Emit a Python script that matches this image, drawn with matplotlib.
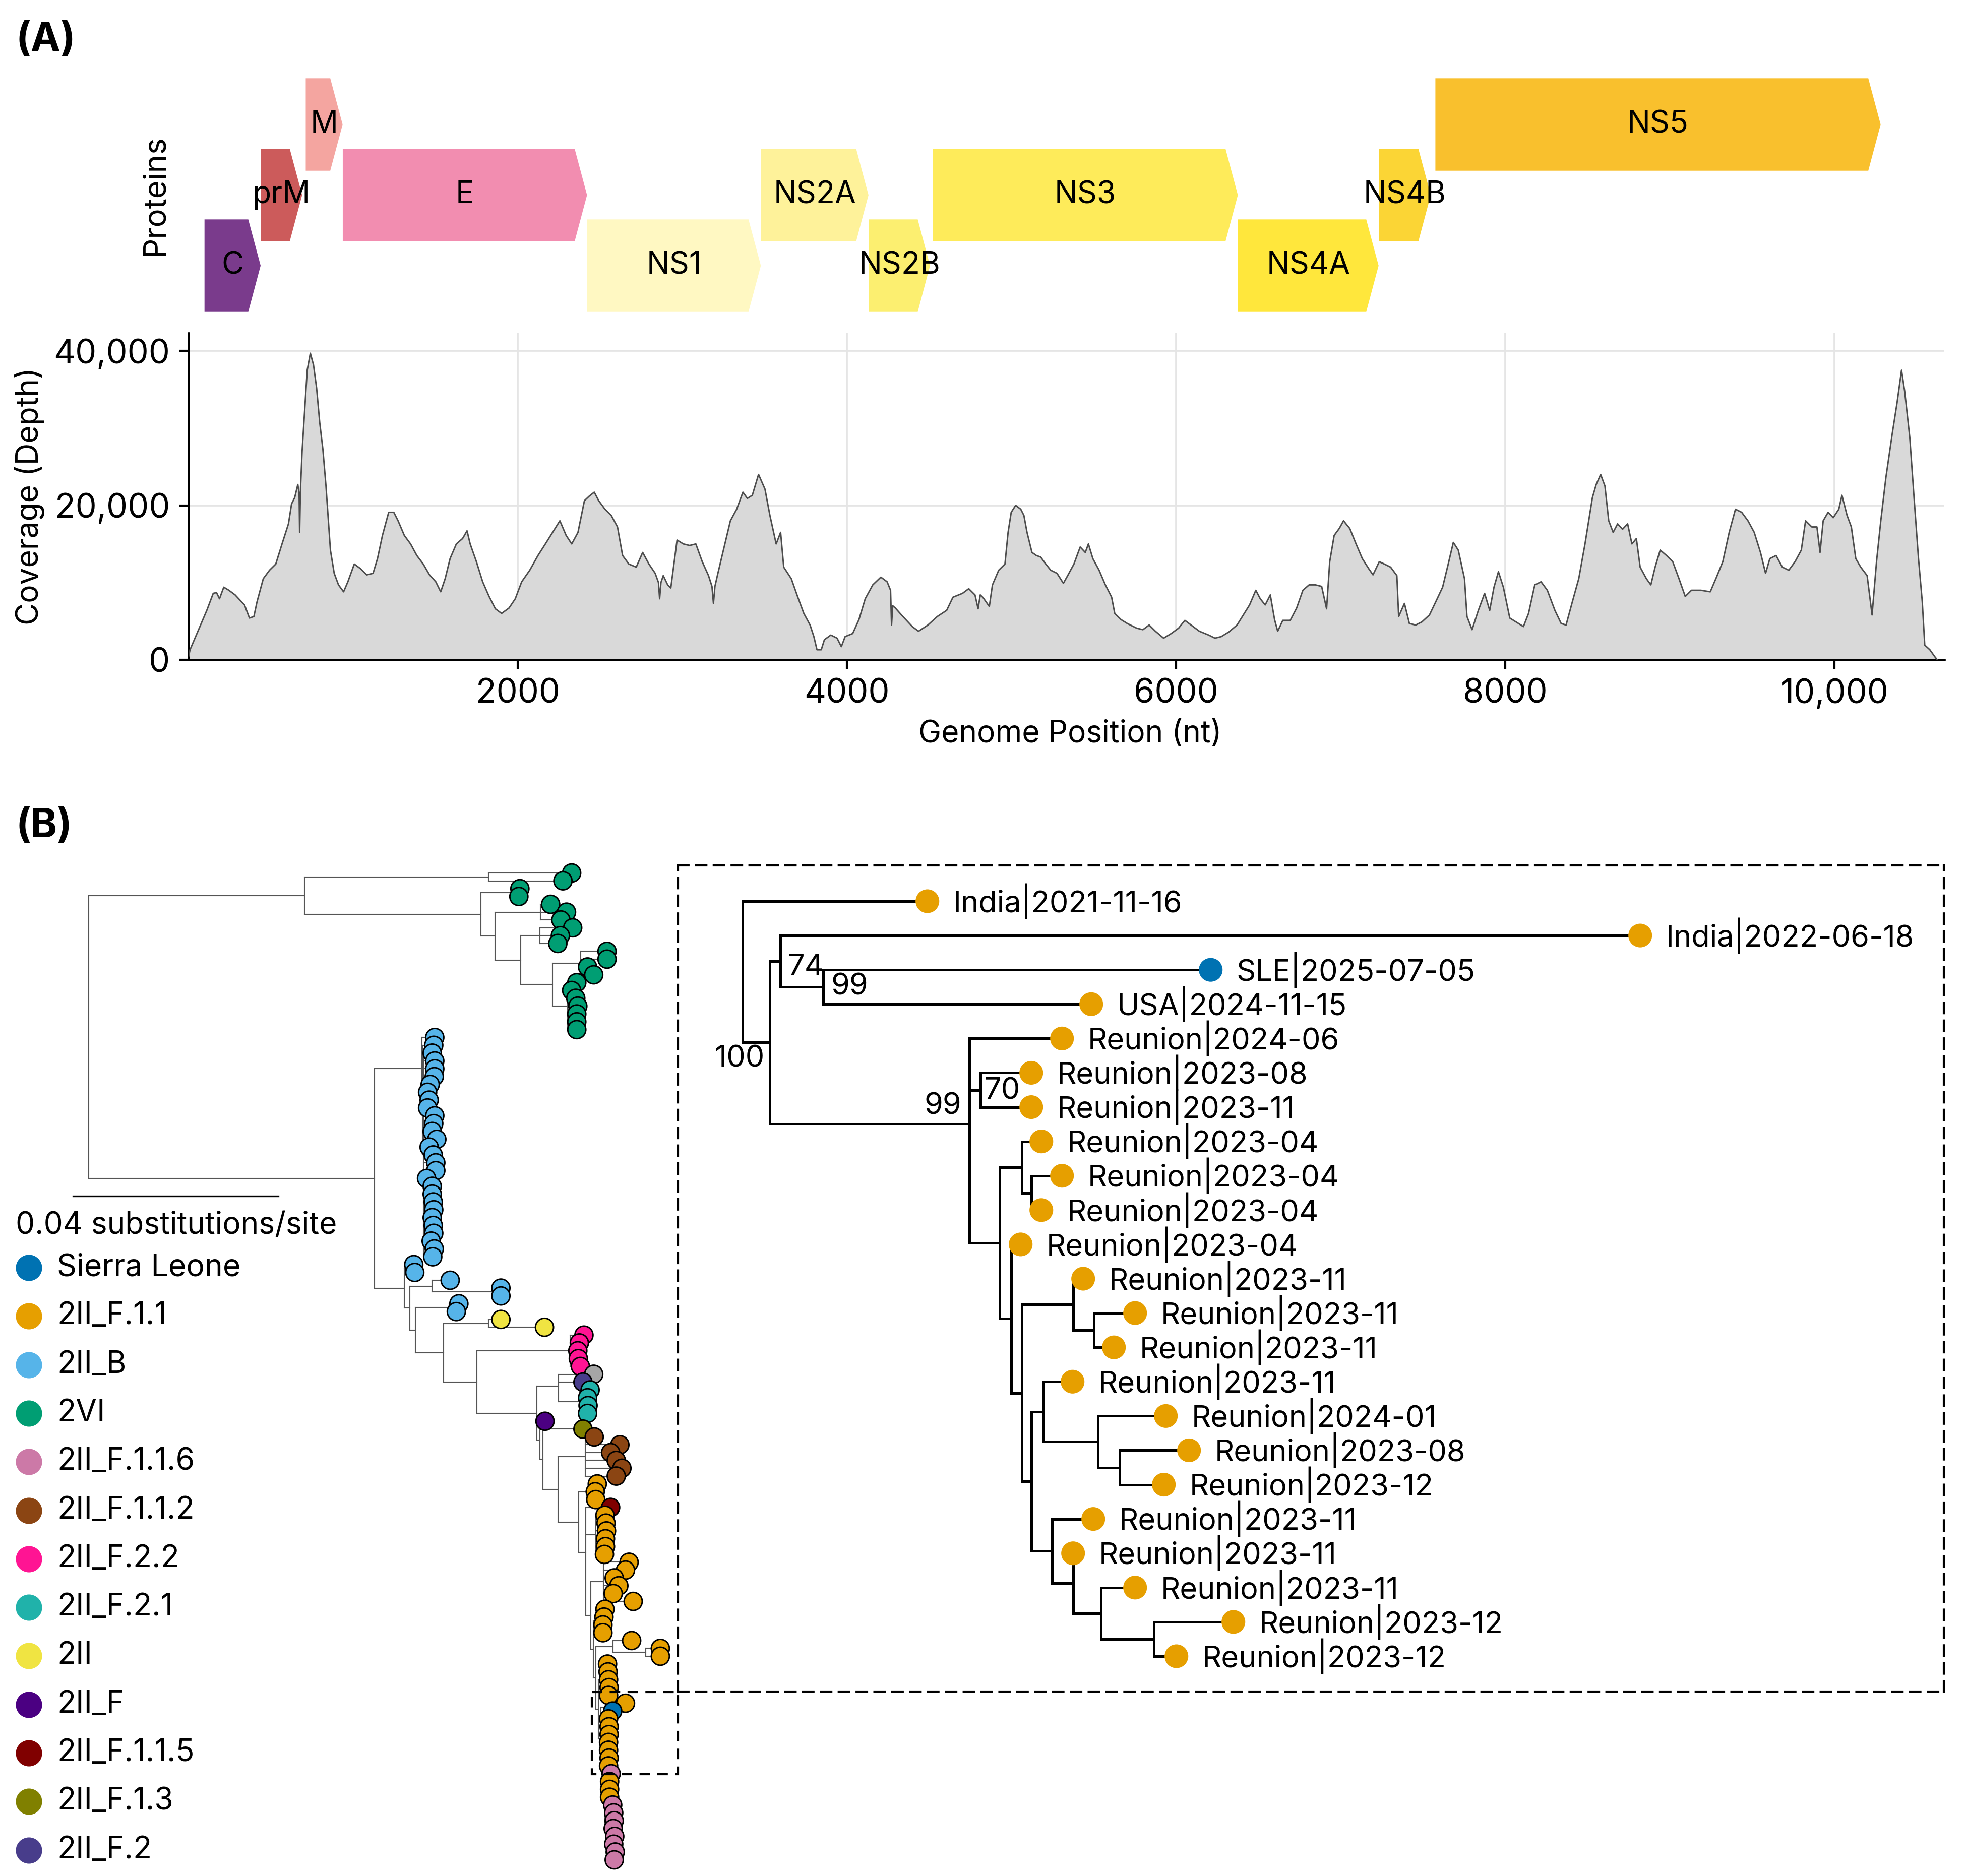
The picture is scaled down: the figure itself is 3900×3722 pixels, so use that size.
import matplotlib
matplotlib.use("Agg")
import matplotlib.pyplot as plt
from matplotlib.patches import Polygon, Rectangle
from matplotlib.collections import LineCollection

plt.rcParams["font.family"] = ["Inter", "DejaVu Sans"]

# ---------------- data ----------------
# genome annotation (nt)
gene_names = ["C", "prM", "M", "E", "NS1", "NS2A", "NS2B", "NS3", "NS4A", "NS4B", "NS5"]
gene_start = [97, 439, 712, 937, 2422, 3478, 4132, 4522, 6376, 7231, 7575]
gene_end = [438, 690, 936, 2421, 3477, 4131, 4505, 6375, 7230, 7547, 10280]
gene_row = [1, 2, 3, 2, 1, 2, 1, 2, 1, 2, 3]
gene_colors = ["#7A3B8C", "#CC5B5B", "#F4A5A0", "#F28DB0", "#FFF8C2", "#FEF29A",
               "#FCEF70", "#FEEB5A", "#FFE73C", "#FBD535", "#F9C02D"]

# read depth along the genome
cov_pos = [1, 9, 73, 111, 150, 170, 188, 214, 245, 283, 340, 370, 397, 416, 454, 492, 530,
           568, 607, 626, 645, 664, 672, 675, 680, 690, 721, 740, 759, 778, 797, 816, 835,
           862, 885, 911, 942, 968, 1007, 1045, 1083, 1121, 1148, 1178, 1216, 1247, 1273,
           1311, 1349, 1387, 1426, 1464, 1502, 1532, 1559, 1589, 1627, 1665, 1692, 1711,
           1749, 1787, 1826, 1864, 1902, 1947, 1985, 2024, 2073, 2123, 2168, 2206, 2256,
           2294, 2328, 2366, 2405, 2435, 2465, 2492, 2530, 2568, 2606, 2637, 2675, 2720,
           2759, 2797, 2835, 2855, 2862, 2870, 2884, 2911, 2930, 2968, 3006, 3044, 3082,
           3121, 3159, 3180, 3189, 3198, 3216, 3254, 3292, 3330, 3368, 3395, 3425, 3463,
           3502, 3532, 3570, 3597, 3616, 3662, 3700, 3738, 3776, 3799, 3818, 3844, 3863,
           3902, 3940, 3966, 3989, 4035, 4073, 4111, 4157, 4206, 4244, 4265, 4271, 4278,
           4294, 4340, 4397, 4435, 4492, 4549, 4606, 4644, 4702, 4740, 4778, 4797, 4810,
           4827, 4865, 4884, 4922, 4960, 4979, 4998, 5025, 5056, 5075, 5094, 5124, 5151,
           5177, 5208, 5238, 5276, 5315, 5341, 5379, 5417, 5448, 5467, 5494, 5532, 5570,
           5608, 5627, 5665, 5703, 5760, 5798, 5836, 5874, 5924, 5970, 6015, 6053, 6103,
           6141, 6198, 6236, 6274, 6320, 6370, 6408, 6446, 6484, 6511, 6541, 6572, 6598,
           6617, 6648, 6693, 6732, 6770, 6808, 6846, 6884, 6914, 6933, 6960, 6991, 7017,
           7055, 7093, 7131, 7170, 7196, 7234, 7265, 7303, 7341, 7352, 7387, 7417, 7455,
           7493, 7539, 7577, 7619, 7653, 7684, 7714, 7752, 7767, 7798, 7836, 7874, 7905,
           7931, 7958, 7988, 8027, 8065, 8110, 8141, 8179, 8217, 8255, 8301, 8339, 8369,
           8407, 8446, 8484, 8529, 8552, 8579, 8605, 8628, 8655, 8682, 8712, 8743, 8769,
           8796, 8819, 8857, 8884, 8910, 8941, 8979, 9017, 9055, 9093, 9131, 9188, 9245,
           9283, 9321, 9360, 9398, 9436, 9474, 9512, 9550, 9581, 9607, 9645, 9683, 9722,
           9760, 9798, 9824, 9862, 9893, 9912, 9931, 9961, 9992, 10026, 10045, 10076,
           10102, 10129, 10159, 10198, 10228, 10255, 10281, 10312, 10350, 10380, 10407,
           10426, 10457, 10483, 10510, 10533, 10548, 10579, 10609, 10624]
cov_depth = [500, 1300, 4500, 6400, 8600, 8700, 7900, 9400, 9000, 8400, 7100, 5400, 5600, 7500,
             10500, 11600, 12400, 15000, 17600, 20200, 21000, 22700, 21500, 16500, 22000,
             27000, 37500, 39700, 38200, 35200, 30700, 27300, 22500, 14200, 11200, 9700,
             8800, 10100, 12400, 11800, 11000, 11200, 13100, 16100, 19100, 19100, 18000,
             16100, 15000, 13500, 12400, 11000, 10100, 8800, 10500, 13100, 15000, 15700,
             16700, 15000, 12700, 10100, 8200, 6600, 6000, 6700, 7900, 10100, 11600, 13500,
             15000, 16300, 18000, 16100, 15000, 16500, 20600, 21200, 21700, 20600, 19500,
             18700, 17200, 13500, 12400, 12000, 13900, 12400, 11200, 10000, 7900, 10000,
             10900, 9700, 9300, 15500, 15000, 14800, 15000, 12700, 10900, 9500, 7300, 9500,
             11200, 14600, 18000, 19500, 21700, 20900, 21300, 24000, 22100, 18700, 15000,
             16500, 12000, 10500, 8200, 6000, 4500, 3000, 1300, 1300, 2600, 3200, 2800,
             1700, 3000, 3400, 5200, 7900, 9700, 10700, 10100, 9000, 4500, 7000, 6700, 5600,
             4300, 3700, 4500, 5600, 6400, 8100, 8600, 9200, 8400, 6600, 8400, 8050, 6900,
             9700, 11600, 12400, 16500, 19100, 20000, 19500, 18700, 16500, 13900, 13500,
             13300, 12400, 11600, 11200, 9900, 10900, 12400, 14600, 13900, 15000, 13100,
             11600, 9700, 8100, 6000, 5200, 4700, 4100, 3900, 4500, 3700, 2800, 3400, 4100,
             5100, 4300, 3700, 3200, 2800, 3000, 3600, 4500, 5800, 7100, 9000, 7900, 7100,
             8400, 5200, 3700, 5100, 5100, 6700, 9000, 9700, 9700, 9500, 6600, 12700, 16100,
             17000, 18000, 17000, 15000, 13100, 11800, 11000, 12700, 12400, 12000, 10900,
             5600, 7300, 4700, 4500, 4900, 5800, 7500, 9400, 12400, 15200, 14200, 10500,
             5600, 3900, 6400, 8600, 6400, 9400, 11400, 9400, 5400, 4900, 4300, 6000, 9700,
             10100, 9000, 6400, 4700, 4500, 7500, 10500, 15000, 21000, 22700, 24000, 22500,
             18000, 16500, 17600, 16900, 17600, 15000, 15700, 12000, 10500, 9700, 12000,
             14200, 13500, 12700, 10500, 8200, 9000, 9000, 8800, 10700, 12700, 16500, 19500,
             19100, 18000, 16500, 13900, 11200, 13100, 13500, 12000, 11600, 12700, 14200,
             18000, 17200, 17200, 13900, 18000, 19100, 18400, 19500, 21300, 18700, 17200,
             13100, 12000, 10900, 5800, 12700, 18000, 23600, 29200, 33300, 37500, 34800,
             28800, 21000, 13100, 7500, 1900, 1300, 400, 0]

# maximum-likelihood tree of genotype 2 genomes, branch lengths in 1e-3 substitutions/site
main_tree_newick = (
    "(((VI:16.2,VI:14.5):35.9,((VI:1.5,VI:1.3):6.1,((VI:2.0,VI:5.1,VI:4.0):8.8,"
    "((VI:6.4,VI:4.0,VI:3.5):3.7,((VI:5.1,VI:5.1,VI:1.3,VI:2.5):5.5,"
    "(VI:1.8,VI:0.8,VI:1.6,VI:2.0,VI:1.8,VI:1.8,VI:1.8):2.9):6.2):5.0):2.8):34.4):42.1,"
    "((B:2.5,(B:2.2,(B:1.7,B:2.2,B:2.2,B:2.1,B:1.3,B:0.8,B:1.1,B:0.8,B:2.2,B:2.0,B:1.7,"
    "B:2.6,B:1.1,B:1.9,B:2.4,B:2.4,B:0.6,B:1.7,B:1.7,B:1.9,B:2.0,B:1.7,B:1.9,B:2.0,B:1.5,"
    "B:2.1,B:1.8):0.2):0.1):9.2,"
    "((B:1.2,B:1.4):0.6,((B:3.5,(B:0.6,B:0.6):12.8):4.4,((B:1.9,B:1.4):6.6,"
    "((II:2.4,II:10.9):8.8,((F22:2.7,F22:1.8,F22:1.5,F22:1.6,F22:2.0):18.2,"
    "((NA:6.9,F2:4.8,(F21:2.0,F21:1.5,F21:1.6,F21:1.5):4.2):4.2,"
    "(F:1.0,(F13:7.8,((F112:1.7,F112:6.7,F112:4.9,F112:6.0,F112:7.1,F112:6.0):5.4,"
    "((F11:1.8,F11:1.4,F11:1.5):1.8,(F115:4.8,(F11:1.8,F11:2.0,F11:2.1,F11:1.9,F11:1.9,"
    "F11:1.7):1.9,((F11:5.0,F11:4.3,F11:2.1,F11:3.0,F11:1.9,F11:5.8):2.5,"
    "((F11:1.3,F11:1.1,F11:0.9,F11:0.9):1.0,((F11:3.6,(F11:2.8,F11:2.8):6.4):3.4,"
    "((F11:1.3,F11:1.4,F11:1.5,F11:1.6,F11:1.5):0.5,((F11:3.8,SL:1.3):1.0,"
    "((F11:0.7,F11:0.8,F11:0.8,F11:0.7,F11:0.7,F11:0.8,F11:0.7):0.3,"
    "(F116:1.2,(F11:0.7,F11:0.7,F11:0.7):0.2,(F116:1.1,F116:1.3,F116:1.4,F116:1.2,"
    "F116:1.5,F116:1.3,F116:1.6,F116:1.4):0.4):0.3):0.5):0.5):0.5):0.5):0.5):0.9):1.4)"
    ":4.1):2.9):0.6):0.6):11.7):6.5):5.5):1.1):1.0):5.8):55.8);"
)

legend_codes = ["SL", "F11", "B", "VI", "F116", "F112", "F22", "F21", "II", "F", "F115", "F13", "F2"]
legend_labels = ["Sierra Leone", "2II_F.1.1", "2II_B", "2VI", "2II_F.1.1.6", "2II_F.1.1.2",
                 "2II_F.2.2", "2II_F.2.1", "2II", "2II_F", "2II_F.1.1.5", "2II_F.1.3", "2II_F.2"]
legend_colors = ["#0072B2", "#E69F00", "#56B4E9", "#009E73", "#CC79A7", "#8B4513",
                 "#FF1493", "#20B2AA", "#F0E442", "#4B0082", "#800000", "#808000", "#483D8B"]
clade_color = dict(zip(legend_codes, legend_colors))
clade_color["NA"] = "#A6A6A6"

# zoomed clade around the Sierra Leone genome, with bootstrap support
inset_tree_newick = (
    "(India|2021-11-16:36.7,((India|2022-06-18:170.6,(SLE|2025-07-05:76.9,"
    "USA|2024-11-15:53.2)99:8.5)74:2.1,(Reunion|2024-06:18.4,(Reunion|2023-08:10.1,"
    "Reunion|2023-11:10.1)70:2.2,((Reunion|2023-04:3.9,(Reunion|2023-04:6.1,"
    "Reunion|2023-04:2.0):1.9):4.4,(Reunion|2023-04:1.9,((Reunion|2023-11:2.0,"
    "(Reunion|2023-11:8.2,Reunion|2023-11:4.0):4.1):10.2,((Reunion|2023-11:5.9,"
    "(Reunion|2024-01:13.5,(Reunion|2023-08:13.8,Reunion|2023-12:8.8):4.3):10.9):2.3,"
    "(Reunion|2023-11:8.2,(Reunion|2023-11:0.0,(Reunion|2023-11:6.8,(Reunion|2023-12:15.8,"
    "Reunion|2023-12:4.5):10.5):5.5):4.2):4.1):1.9):2.1):2.3):6.0)99:39.6)100:5.4);"
)
country_color = {"SLE": "#0072B2", "India": "#E69F00", "USA": "#E69F00", "Reunion": "#E69F00"}


# ---------------- helpers ----------------
def parse_newick(text):
    text = "".join(text.split())
    pos = 0

    def read_node():
        nonlocal pos
        children = []
        if text[pos] == "(":
            pos += 1
            children.append(read_node())
            while text[pos] == ",":
                pos += 1
                children.append(read_node())
            pos += 1
        start = pos
        while text[pos] not in ",():;":
            pos += 1
        label = text[start:pos]
        length = 0.0
        if text[pos] == ":":
            pos += 1
            start = pos
            while text[pos] not in ",();":
                pos += 1
            length = float(text[start:pos])
        return {"label": label, "length": length, "children": children}

    return read_node()


def layout(tree):
    tips, internal = [], []

    def walk(node, parent_x):
        node["x"] = parent_x + node["length"]
        if node["children"]:
            internal.append(node)
            for child in node["children"]:
                walk(child, node["x"])
            node["y"] = sum(c["y"] for c in node["children"]) / len(node["children"])
        else:
            node["y"] = len(tips)
            tips.append(node)

    walk(tree, 0.0)
    return tips, internal


def branch_segments(internal):
    segs = []
    for n in internal:
        ys = [c["y"] for c in n["children"]]
        segs.append([(n["x"], min(ys)), (n["x"], max(ys))])
        for c in n["children"]:
            segs.append([(n["x"], c["y"]), (c["x"], c["y"])])
    return segs


W, H, DPI = 3900, 3722, 300
fig = plt.figure(figsize=(W / DPI, H / DPI), dpi=DPI)


def px_box(left, top, right, bottom):
    return [left / W, 1 - bottom / H, (right - left) / W, (bottom - top) / H]


XMAX = 10667

# ---------------- (A) gene map ----------------
ax_g = fig.add_axes(px_box(374, 150, 3857, 620))
head = 75
half_h = 0.655
for name, s, e, r, col in zip(gene_names, gene_start, gene_end, gene_row, gene_colors):
    body_end = max(s, e - head)
    poly = Polygon([(s, r - half_h), (body_end, r - half_h), (e, r),
                    (body_end, r + half_h), (s, r + half_h)],
                   closed=True, facecolor=col, edgecolor="none")
    ax_g.add_patch(poly)
    ax_g.text((s + e) / 2, r, name, ha="center", va="center", fontsize=14.6)
ax_g.set_xlim(0, XMAX)
ax_g.set_ylim(0.336, 3.693)
for sp in ax_g.spines.values():
    sp.set_visible(False)
ax_g.set_xticks([])
ax_g.set_yticks([])
ax_g.set_ylabel("Proteins", fontsize=14.8)
ax_g.yaxis.label.set(rotation_mode="default", va="center", ha="center")
ax_g.yaxis.set_label_coords(-0.019, 0.496)

# ---------------- (A) coverage ----------------
ax_c = fig.add_axes(px_box(374, 661, 3857, 1309))
ax_c.fill_between(cov_pos, cov_depth, 0, color="#D9D9D9", lw=0, zorder=2)
ax_c.plot(cov_pos, cov_depth, color="#4D4D4D", lw=0.7, zorder=3)
ax_c.set_xlim(0, XMAX)
ax_c.set_ylim(0, 42300)
ax_c.set_xticks([2000, 4000, 6000, 8000, 10000])
ax_c.set_xticklabels(["2000", "4000", "6000", "8000", "10,000"])
ax_c.set_yticks([0, 20000, 40000])
ax_c.set_yticklabels(["0", "20,000", "40,000"])
ax_c.tick_params(length=4.3, width=1.0, labelsize=16, pad=4.5)
ax_c.grid(True, color="#E5E5E5", lw=0.9)
ax_c.set_axisbelow(True)
ax_c.spines["top"].set_visible(False)
ax_c.spines["right"].set_visible(False)
ax_c.spines["left"].set_linewidth(1.1)
ax_c.spines["bottom"].set_linewidth(1.1)
ax_c.set_xlabel("Genome Position (nt)", fontsize=14.5)
ax_c.xaxis.label.set(va="center")
ax_c.xaxis.set_label_coords(0.502, -0.228)
ax_c.set_ylabel("Coverage (Depth)", fontsize=14.5)
ax_c.yaxis.label.set(rotation_mode="default", va="center", ha="center")
ax_c.yaxis.set_label_coords(-0.0907, 0.5)

# ---------------- (B) main tree ----------------
main_tree = parse_newick(main_tree_newick)
m_tips, m_nodes = layout(main_tree)
ax_t = fig.add_axes(px_box(0, 1690, 1345, 3722))
unit_px = 10.17            # pixels per 1e-3 subs/site
root_px = 176
tip0_px, tipN_px = 1732, 3690
tip_px = (tipN_px - tip0_px) / (len(m_tips) - 1)
ax_t.set_xlim(-root_px / unit_px, (1345 - root_px) / unit_px)
ax_t.set_ylim((3722 - tip0_px) / tip_px, (1690 - tip0_px) / tip_px)
ax_t.axis("off")
ax_t.add_collection(LineCollection(branch_segments(m_nodes), colors="#555555",
                                   linewidths=0.5, capstyle="projecting", zorder=1))
ax_t.scatter([t["x"] for t in m_tips], [t["y"] for t in m_tips], s=8.6 ** 2,
             c=[clade_color[t["label"]] for t in m_tips], edgecolors="black",
             linewidths=0.7, zorder=3)
# scale bar: 0.04 substitutions/site
bar_y = (2373 - tip0_px) / tip_px
bar_x0 = (145 - root_px) / unit_px
ax_t.plot([bar_x0, bar_x0 + 40], [bar_y, bar_y], color="black", lw=0.8)
ax_t.text((31 - root_px) / unit_px, (2432 - tip0_px) / tip_px, "0.04 substitutions/site",
          ha="left", va="center", fontsize=14.5)

# ---------------- (B) inset tree ----------------
inset_tree = parse_newick(inset_tree_newick)
i_tips, i_nodes = layout(inset_tree)
ax_i = fig.add_axes(px_box(1345, 1717, 3856, 3356))
i_unit = 10.0
i_root = 1472.7
i_tip0, i_tipN = 1788, 3286
i_step = (i_tipN - i_tip0) / (len(i_tips) - 1)
ax_i.set_xlim((1345 - i_root) / i_unit, (3856 - i_root) / i_unit)
ax_i.set_ylim((3356 - i_tip0) / i_step, (1717 - i_tip0) / i_step)
ax_i.set_xticks([])
ax_i.set_yticks([])
for sp in ax_i.spines.values():
    sp.set_linestyle((0, (5, 3.5)))
    sp.set_linewidth(1.0)
ax_i.add_collection(LineCollection(branch_segments(i_nodes), colors="black",
                                   linewidths=1.2, capstyle="projecting", zorder=1))
ax_i.scatter([t["x"] for t in i_tips], [t["y"] for t in i_tips], s=11.3 ** 2,
             c=[country_color[t["label"].split("|")[0]] for t in i_tips],
             edgecolors="none", zorder=3)
for t in i_tips:
    ax_i.annotate(t["label"], (t["x"], t["y"]), xytext=(12.2, 0), textcoords="offset points",
                  ha="left", va="center", fontsize=14.3)
# bootstrap labels, in preorder
support_place = [(-2.4, -7.9, "right"), (3.4, -2.9, "left"), (3.8, 0, "left"),
                 (-3.6, 8.4, "right"), (1.7, -0.6, "left")]
k = 0
for n in i_nodes:
    if n["label"]:
        dx, dy, ha = support_place[k]
        k += 1
        ax_i.annotate(n["label"], (n["x"], n["y"]), xytext=(dx, dy),
                      textcoords="offset points", ha=ha, va="center", fontsize=14.3)

# ---------------- overlay: panel letters, legend, zoom box ----------------
ov = fig.add_axes([0, 0, 1, 1], zorder=10)
ov.set_xlim(0, W)
ov.set_ylim(H, 0)
ov.axis("off")
ov.patch.set_alpha(0)
ov.text(31, 80, "(A)", ha="left", va="center", fontsize=19, fontweight="bold")
ov.text(31, 1640, "(B)", ha="left", va="center", fontsize=19, fontweight="bold")
for i, (lab, col) in enumerate(zip(legend_labels, legend_colors)):
    y = 2515 + i * 96.3
    ov.plot(57, y, "o", ms=12.5, color=col, mec="none")
    ov.text(113, y, lab, ha="left", va="center", fontsize=14.6)
ov.add_patch(Rectangle((1174, 3357), 1345 - 1174, 3520 - 3357, fill=False,
                       edgecolor="black", lw=1.0, linestyle=(0, (5, 3.5))))

fig.savefig("out.png", dpi=DPI)
